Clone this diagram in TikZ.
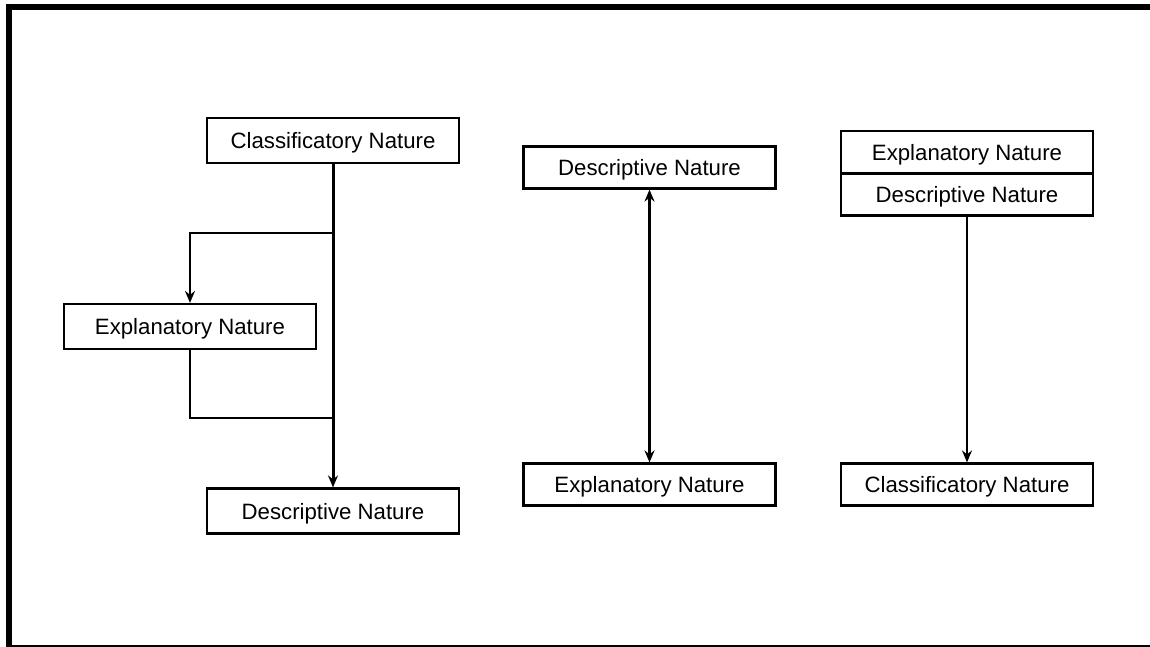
\documentclass[tikz,border=0pt]{standalone}
\usepackage{fontspec}
\setmainfont{Liberation Sans}
\usetikzlibrary{arrows.meta,positioning}

\tikzset{
  natbox/.style={draw, line width=2.2pt, minimum width=252pt, minimum height=45pt,
                 inner sep=0pt, text height=16pt, text depth=0pt,
                 font=\fontsize{22.2}{24}\selectfont},
  link/.style={line width=2.2pt},
  >={Stealth[length=12pt,width=10pt,inset=4pt]}
}

\begin{document}
\begin{tikzpicture}[x=1pt,y=-1pt]
  \useasboundingbox (0,0) rectangle (1150,646);
% Frame
  \draw[line width=6pt] (9,7) rectangle (1160,648);
% Left chain
  \node[natbox] (cls) at (333,140.5) {Classificatory Nature};
  \node[natbox] (expl) at (190,326.5) {Explanatory Nature};
  \node[natbox] (desc) at (333,511) {Descriptive Nature};
  \coordinate (split) at (333,233);
  \coordinate (join) at (333,418);
  \draw[link,line width=3pt,->] (cls) -- (desc);
  \draw[link,->] (split) -| (expl);
  \draw[link] (expl) |- (join);
% Middle pair
  \node[natbox,minimum height=42pt] (mdesc) at (649.5,167.5) {Descriptive Nature};
  \node[natbox,minimum height=42pt] (mexpl) at (649.5,484.5) {Explanatory Nature};
  \draw[link,<->] (mdesc) -- (mexpl);
% Right stack
  \node[natbox,minimum height=42pt] (rexpl) at (967,152) {Explanatory Nature};
  \node[natbox,minimum height=42pt] (rdesc) at (967,194.5) {Descriptive Nature};
  \node[natbox,minimum height=42pt] (rcls) at (967,484.5) {Classificatory Nature};
  \draw[link,->] (rdesc) -- (rcls);
\end{tikzpicture}
\end{document}
